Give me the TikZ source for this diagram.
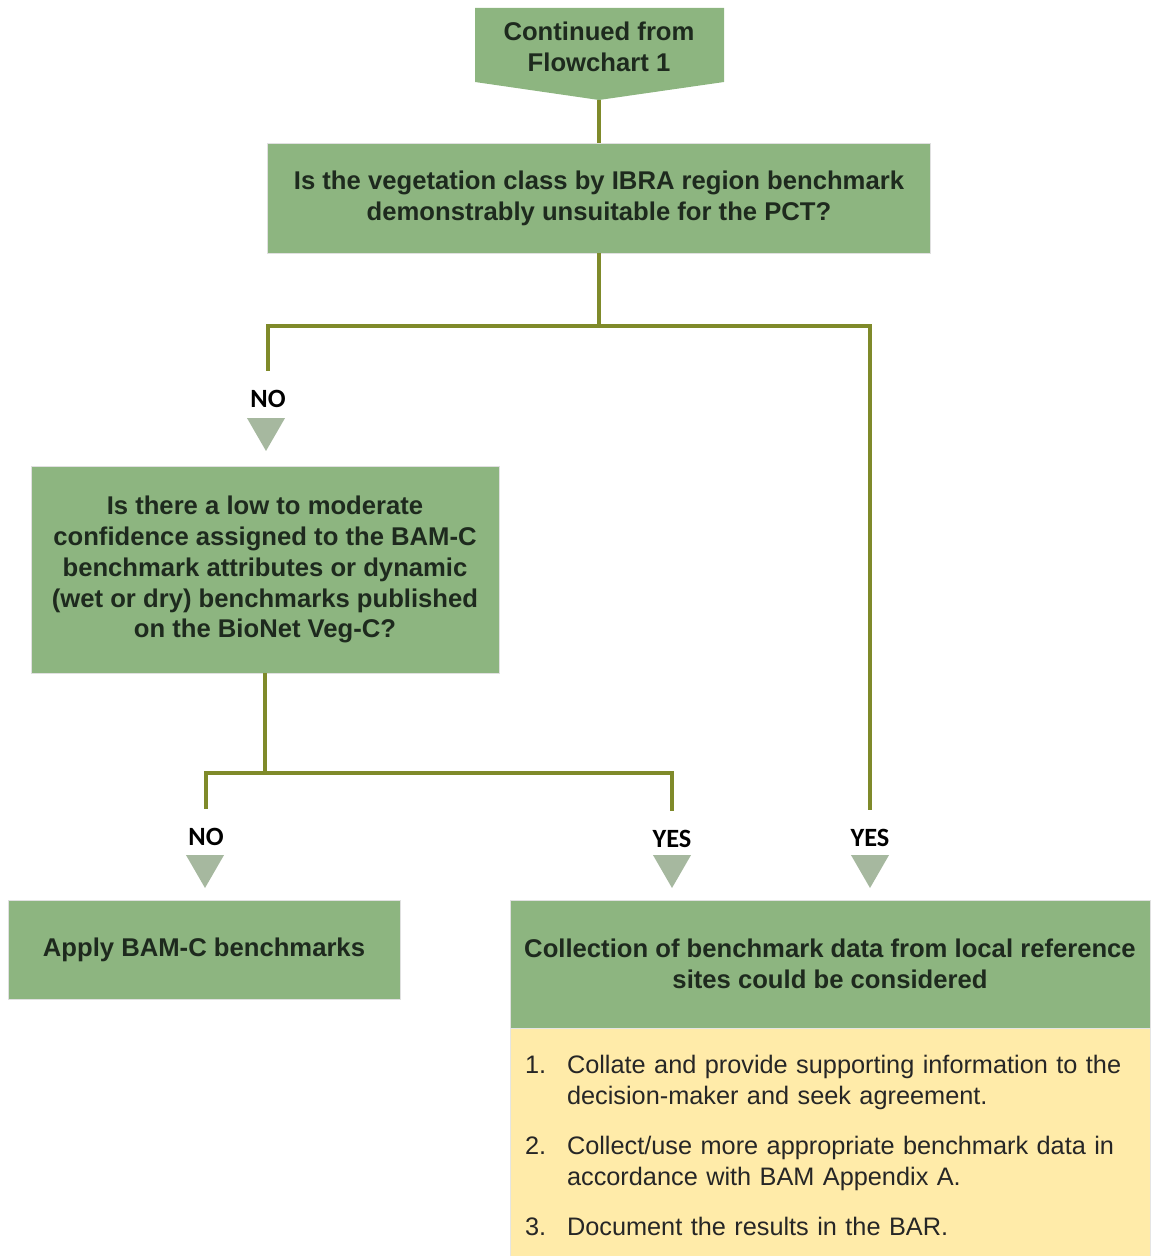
\documentclass[tikz,border=0pt]{standalone}
\usepackage{fontspec}
\setmainfont{Liberation Sans}
\newfontfamily\answerfont{Carlito}
\usepackage{tikz}
\usetikzlibrary{positioning}
\usetikzlibrary{shapes.geometric}

\definecolor{box-green}{HTML}{8DB580}
\definecolor{box-text}{HTML}{1E2A1E}
\definecolor{link-olive}{HTML}{7F8A2A}
\definecolor{pointer-grey}{HTML}{A6B89F}
\definecolor{step-yellow}{HTML}{FFEBA9}

\begin{document}
\begin{tikzpicture}[x=0.02cm, y=-0.02cm]
    \tikzstyle{question} = [fill=box-green, draw=black!12, rectangle, align=center, text=box-text, inner sep=0pt, font=\bfseries\fontsize{14.6}{17.6}\selectfont];
    \tikzstyle{answer} = [inner xsep=0pt, inner ysep=11pt, font=\answerfont\bfseries\fontsize{15}{18}\selectfont];
    \tikzstyle{pointer} = [fill=pointer-grey, regular polygon, regular polygon sides=3, shape border rotate=180, inner sep=0pt, minimum size=0.88cm];
    \tikzstyle{link} = [draw=link-olive, line width=2pt];

    \useasboundingbox (0,0) rectangle (1150,1256);

    \fill [box-green] (475,8) -- (724,8) -- (724,82) -- (599,100) -- (475,82) -- cycle;
    \node (start) at (599,47) [align=center, text=box-text, font=\bfseries\fontsize{14.6}{17.6}\selectfont] {Continued from\\Flowchart 1};
    \coordinate (start-tip) at (599,100);

    \node (q-1) at (599,198) [question, minimum width=13.26cm, minimum height=2.2cm]
        {Is the vegetation class by IBRA region benchmark\\demonstrably unsuitable for the PCT?};
    \draw [link] (start-tip) -- (q-1);

    \coordinate (split-1) at (599,326);
    \node (no-a)  at (268,399) [answer] {NO};
    \node (yes-a) at (870,838) [answer] {YES};
    \node (pointer-no-a)  at (266,429) [pointer] {};
    \node (pointer-yes-a) at (870,866) [pointer] {};
    \draw [link] (q-1) -- (split-1);
    \draw [link] (no-a) |- (split-1) -| (yes-a);

    \node (q-2) at (265,569.5) [question, minimum width=9.36cm, minimum height=4.14cm]
        {Is there a low to moderate\\confidence assigned to the BAM-C\\benchmark attributes or dynamic\\(wet or dry) benchmarks published\\on the BioNet Veg-C?};

    \coordinate (split-2) at (265,773);
    \node (no-b)  at (206,837) [answer] {NO};
    \node (yes-b) at (672,839) [answer] {YES};
    \node (pointer-no-b)  at (205,866) [pointer] {};
    \node (pointer-yes-b) at (672,866) [pointer] {};
    \draw [link] (q-2) -- (split-2);
    \draw [link] (no-b) |- (split-2) -| (yes-b);

    \node (apply) at (204,949.5) [question, minimum width=7.84cm, minimum height=1.98cm] {Apply BAM-C benchmarks};
    \node (collect) at (830,964) [question, minimum width=12.8cm, minimum height=2.56cm]
        {Collection of benchmark data from local reference\\sites could be considered};
    \node (steps) at (830,1148) [fill=step-yellow, draw=black!10, rectangle, text width=12.2cm, inner xsep=0.3cm, inner ysep=0pt, minimum height=4.8cm, align=left, text=black!85, font=\fontsize{14.4}{17.6}\selectfont]
        {\begin{tabular}{@{}p{0.84cm}@{}l@{}}
            1. & Collate and provide supporting information to the\\
               & decision-maker and seek agreement.\\[10.8pt]
            2. & Collect/use more appropriate benchmark data in\\
               & accordance with BAM Appendix A.\\[10.8pt]
            3. & Document the results in the BAR.
        \end{tabular}};
\end{tikzpicture}
\end{document}
